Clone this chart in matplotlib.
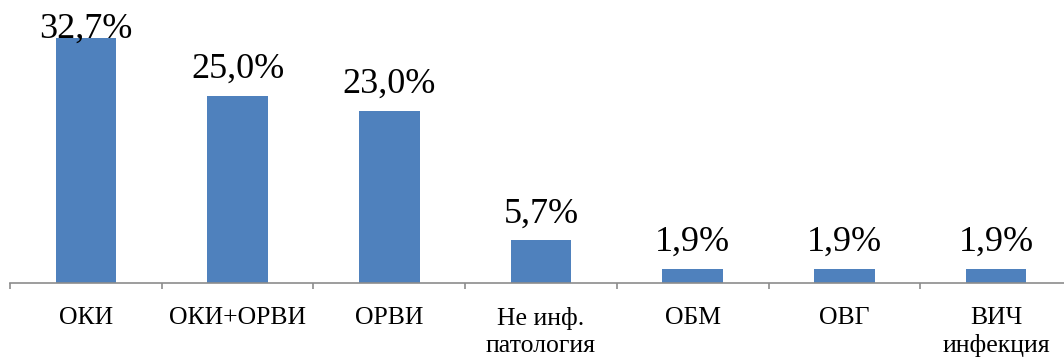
import numpy as np
import matplotlib.pyplot as plt

# Распределение по нозологиям, %
categories = ["ОКИ", "ОКИ+ОРВИ", "ОРВИ", "Не инф.\nпатология", "ОБМ", "ОВГ", "ВИЧ\nинфекция"]
values = [32.7, 25.0, 23.0, 5.7, 1.9, 1.9, 1.9]
labels = ["32,7%", "25,0%", "23,0%", "5,7%", "1,9%", "1,9%", "1,9%"]

plt.rcParams['font.family'] = ['Liberation Serif', 'DejaVu Serif']

fig = plt.figure(figsize=(10.64, 3.58), dpi=100)
ax = fig.add_axes([10 / 1064, 75 / 358, 1062 / 1064, 283 / 358])

x = np.arange(len(categories))
ax.bar(x, values, width=0.4, color='#4f81bd')

ymax = 37.77
ax.set_ylim(0, ymax)
ax.set_xlim(-0.5, len(categories) - 0.5)

# подписи значений над столбцами (верхняя прижата к краю)
for xi, v, lab in zip(x, values, labels):
    y = min(v + 2.4, ymax - 5.07)
    ax.text(xi, y, lab, ha='center', va='baseline', fontsize=26, color='black')

for s in ['top', 'right', 'left']:
    ax.spines[s].set_visible(False)
ax.spines['bottom'].set_color('#8c8c8c')
ax.spines['bottom'].set_linewidth(1.2)

ax.set_yticks([])
ax.set_xticks(x)
ax.set_xticklabels(categories, fontsize=18.5, linespacing=1.3, va='top')
ax.tick_params(axis='x', which='major', length=0, pad=17)
ax.set_xticks(np.arange(-0.5, len(categories)), minor=True)
ax.tick_params(axis='x', which='minor', length=4, width=1.2, color='#8c8c8c', direction='out')

fig.savefig("out.png", dpi=100)
